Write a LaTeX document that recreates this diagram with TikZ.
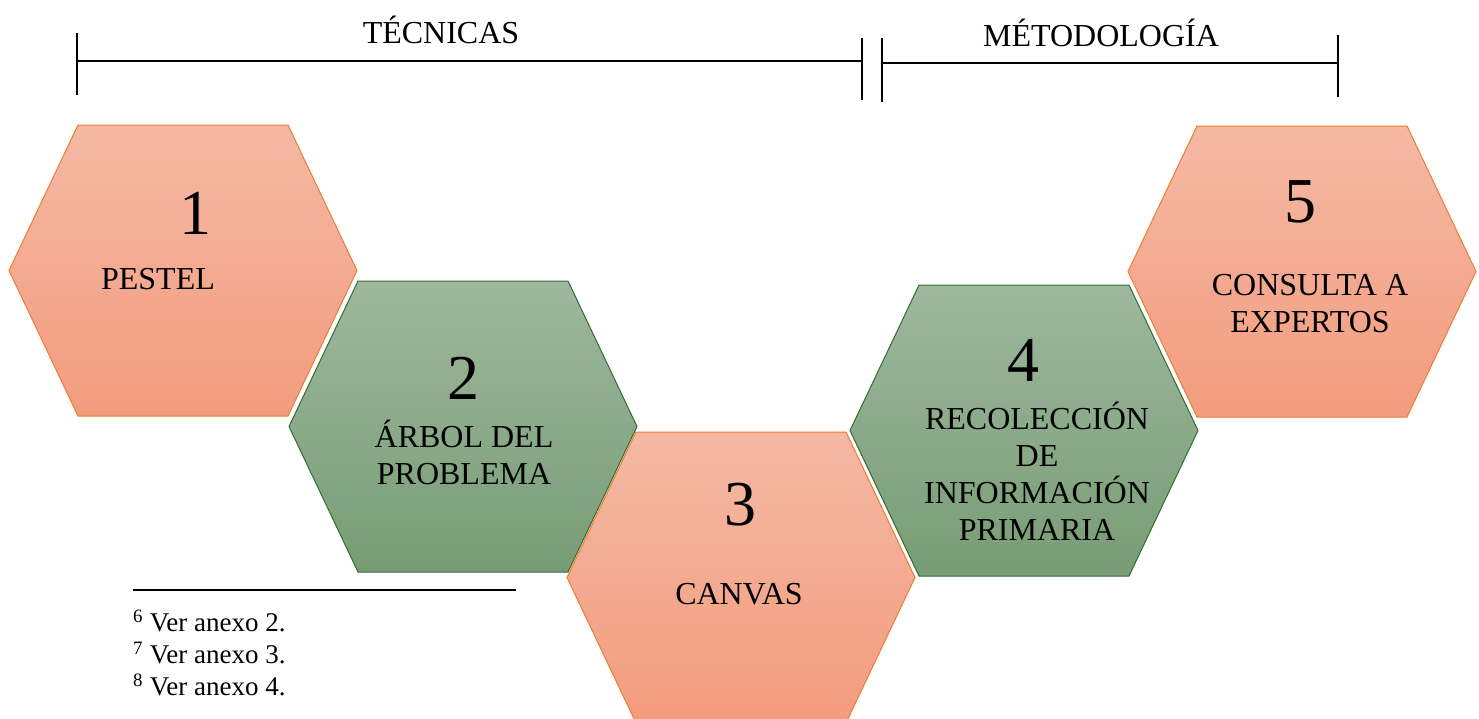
\documentclass[tikz,border=0pt]{standalone}
\usepackage{fontspec}
\setmainfont{Liberation Serif}
\usetikzlibrary{positioning}

\definecolor{salmontop}{HTML}{F4B9A4}
\definecolor{salmonbot}{HTML}{F39C7E}
\definecolor{salmonline}{HTML}{ED7D31}
\definecolor{sagetop}{HTML}{9EB89E}
\definecolor{sagebot}{HTML}{789C75}
\definecolor{sageline}{HTML}{2F6F2F}

\tikzset{
  hex salmon/.style={top color=salmontop, bottom color=salmonbot, draw=salmonline, line width=1pt},
  hex sage/.style={top color=sagetop, bottom color=sagebot, draw=sageline, line width=1pt},
  hex num/.style={font=\fontsize{64}{64}\selectfont, inner sep=0pt},
  hex label/.style={font=\fontsize{32}{37}\selectfont, align=center, inner sep=0pt},
  span line/.style={line width=1.5pt},
  span label/.style={font=\fontsize{32}{32}\selectfont, inner sep=0pt},
  note/.style={font=\fontsize{27}{27}\selectfont, anchor=west, inner sep=0pt}
}

\begin{document}
\begin{tikzpicture}[x=1pt, y=-1pt]
  \useasboundingbox (0,0) rectangle (1479,718);
  \clip (0,0) rectangle (1479,718);

  % hexagons
  \foreach \n/\l/\t/\s in {1/9/125/salmon, 2/289/281/sage, 3/567/432/salmon, 4/850/285/sage, 5/1128/126/salmon}
    \path [hex \s] (\l+69,\t) -- (\l+279,\t) -- (\l+348,\t+145.5) -- (\l+279,\t+291)
      -- (\l+69,\t+291) -- (\l,\t+145.5) -- cycle;

  \node [hex num] (num-1) at (195,213) {1};
  \node [hex label] (lab-1) at (158,279) {PESTEL};
  \node [hex num] (num-2) at (463,378) {2};
  \node [hex label] (lab-2) at (464,452) {ÁRBOL DEL\\PROBLEMA};
  \node [hex num] (num-3) at (740,505) {3};
  \node [hex label] (lab-3) at (739,594) {CANVAS};
  \node [hex num] (num-4) at (1023,360) {4};
  \node [hex label] (lab-4) at (1037,471) {RECOLECCIÓN\\DE\\INFORMACIÓN\\PRIMARIA};
  \node [hex num] (num-5) at (1300,202) {5};
  \node [hex label] (lab-5) at (1310,304) {CONSULTA A\\EXPERTOS};

  % brackets
  \coordinate (tec-a) at (78,61);
  \coordinate (tec-b) at (862,61);
  \coordinate (met-a) at (882,63);
  \coordinate (met-b) at (1338,63);
  \draw [span line] (tec-a) -- (tec-b);
  \draw [span line] (77,33) -- (77,95);
  \draw [span line] (862,38) -- (862,100);
  \draw [span line] (met-a) -- (met-b);
  \draw [span line] (882,38) -- (882,102);
  \draw [span line] (1338,35) -- (1338,97);
  \node [span label] (tecnicas) at (441,30) {TÉCNICAS};
  \node [span label] (metodo) at (1101,33) {MÉTODOLOGÍA};

  % footnotes
  \draw [line width=1.5pt] (133,590) -- (516,590);
  \foreach \s/\a [count=\i] in {6/2, 7/3, 8/4}
    \node [note] (fn-\s) at (133,589+32*\i) {\textsuperscript{\s} Ver anexo \a.};
\end{tikzpicture}
\end{document}
